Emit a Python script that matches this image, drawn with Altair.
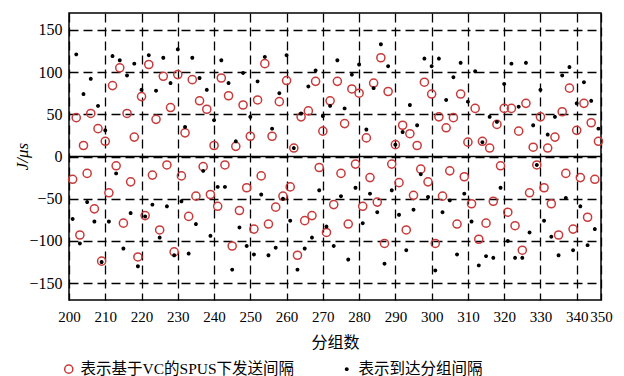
import altair as alt
import pandas as pd

# packet numbers 201..346
packets = list(range(201, 347))

# send interval under VC-based SPUS (red open circles), in packet order 201..346
send_interval = [
    -27, 46, -93, 13, -20, 51, -62, 33, -124, 18,
    -43, 84, -11, 105, -79, 51, -30, 23, -119, 71,
    -70, 109, -22, 44, -87, 95, -10, 58, -113, 97,
    -23, 28, -71, 91, -47, 66, -12, 56, -45, 13,
    -59, 93, -10, 72, -106, 12, -64, 61, -37, 24,
    -86, 67, -23, 110, -80, 24, -60, 65, -47, 90,
    -36, 10, -117, 47, -76, 54, -70, 89, -13, 30,
    -90, 66, -57, 89, -20, 39, -80, 80, -9, 75,
    -59, 22, -25, 87, -54, 117, -103, 77, -9, 14,
    -31, 37, -87, 27, -46, 13, -15, 88, -30, 74,
    -103, 47, -47, 34, -17, 46, -80, 74, -24, 17,
    -56, 57, -98, 18, -79, 10, -53, 38, -11, 57,
    -66, 57, -82, 30, -111, 63, -43, 11, -10, 47,
    -37, 10, -56, 23, -93, 53, -20, 81, -86, 31,
    -25, 63, -72, 40, -27, 18,
]

# arrival packet interval (black dots), in packet order 201..346
arrival_interval = [
    -74, 121, -103, 74, -54, 92, -77, 60, -125, 31,
    -77, 119, -20, 114, -109, 96, -67, 110, -130, 79,
    -71, 120, -57, 78, -96, 117, -59, 87, -117, 127,
    -53, 35, -115, 117, -80, 93, -17, 79, -94, 43,
    -36, 114, -36, 87, -134, 18, -84, 99, -106, 47,
    -116, 89, -45, 118, -117, 33, -108, 75, -50, 120,
    -76, 10, -134, 51, -109, 83, -96, 102, -40, 48,
    -83, 60, -106, 114, -47, 57, -122, 97, -37, 109,
    -79, 32, -44, 81, -66, 133, -127, 107, -40, 14,
    -69, 29, -111, 61, -63, 37, -21, 116, -48, 107,
    -135, 116, -66, 67, -52, 94, -116, 111, -44, 65,
    -77, 101, -129, 17, -118, 47, -120, 41, -37, 86,
    -100, 110, -120, 59, -120, 111, -90, 37, -10, 79,
    -76, 26, -95, 47, -117, 96, -49, 106, -111, 63,
    -59, 88, -105, 66, -86, 33,
]

series_names = ["表示基于VC的SPUS下发送间隔", "表示到达分组间隔"]
x_ticks = [200, 210, 220, 230, 240, 250, 260, 270, 280, 290, 300, 310, 320, 330, 340, 346.7]
y_ticks = [-150, -100, -50, 0, 50, 100, 150]

df = pd.concat([
    pd.DataFrame({"packet": packets, "value": send_interval, "series": series_names[0]}),
    pd.DataFrame({"packet": packets, "value": arrival_interval, "series": series_names[1]}),
], ignore_index=True)

RED = "#c83a3a"

x_enc = alt.X(
    "packet:Q",
    scale=alt.Scale(domain=[200, 346.7], nice=False, zero=False),
    axis=alt.Axis(
        values=x_ticks,
        labelExpr="datum.value > 345 ? '350' : datum.label",
        labelOverlap=False,
        labelFlush=False,
        title="分组数",
        titleFont="Noto Sans CJK SC",
        titleFontSize=16,
        titleFontWeight="normal",
        titlePadding=10,
        labelFont="Liberation Serif",
        labelFontSize=15,
        labelPadding=9,
        ticks=False,
        domain=False,
        grid=True,
        gridColor="black",
        gridDash=[9, 5],
        gridWidth=1.3,
        gridOpacity=1,
        labelColor="black",
        titleColor="black",
    ),
)
y_enc = alt.Y(
    "value:Q",
    scale=alt.Scale(domain=[-170, 170], nice=False),
    axis=alt.Axis(
        values=y_ticks,
        labelOverlap=False,
        title="J/μs",
        titleFont="Liberation Serif",
        titleFontSize=17,
        titleFontWeight="normal",
        titleFontStyle="italic",
        titleX=-47,
        titleY=143,
        titleAngle=270,
        titleAlign="center",
        titleBaseline="middle",
        labelFont="Liberation Serif",
        labelFontSize=16,
        labelPadding=7,
        ticks=False,
        domain=False,
        grid=True,
        gridColor="black",
        gridDash=[9, 5],
        gridWidth=1.3,
        gridOpacity=1,
        labelColor="black",
        titleColor="black",
    ),
)

points = alt.Chart(df).mark_point(opacity=1, strokeWidth=1.5).encode(
    x=x_enc,
    y=y_enc,
    stroke=alt.Stroke(
        "series:N",
        scale=alt.Scale(domain=series_names, range=[RED, "black"]),
        legend=alt.Legend(
            title=None,
            orient="none",
            direction="horizontal",
            legendX=-8,
            legendY=348,
            columnPadding=44,
            labelFont="Liberation Serif, Noto Sans CJK SC",
            labelFontSize=15.5,
            labelColor="black",
            labelLimit=400,
            symbolStrokeWidth=1.5,
        ),
    ),
    fill=alt.Fill(
        "series:N",
        scale=alt.Scale(domain=series_names, range=["transparent", "black"]),
        legend=alt.Legend(title=None),
    ),
    size=alt.Size(
        "series:N",
        scale=alt.Scale(domain=series_names, range=[66, 6]),
        legend=alt.Legend(title=None),
    ),
    shape=alt.Shape(
        "series:N",
        scale=alt.Scale(domain=series_names, range=["circle", "circle"]),
        legend=alt.Legend(title=None),
    ),
)

zero_rule = alt.Chart(pd.DataFrame({"v": [0]})).mark_rule(
    color="black", strokeWidth=1.3
).encode(y=alt.Y("v:Q"))

chart = alt.layer(zero_rule, points).resolve_legend(
    stroke="shared"
).properties(
    width=532,
    height=287,
    autosize=alt.AutoSizeParams(type="none"),
    padding={"left": 61, "top": 5, "right": 15, "bottom": 76},
).configure_view(
    stroke="black", strokeWidth=1.5
).configure_legend(
    orient="none",
)

chart.save("out.html", embed_options={"renderer": "svg", "actions": False})
